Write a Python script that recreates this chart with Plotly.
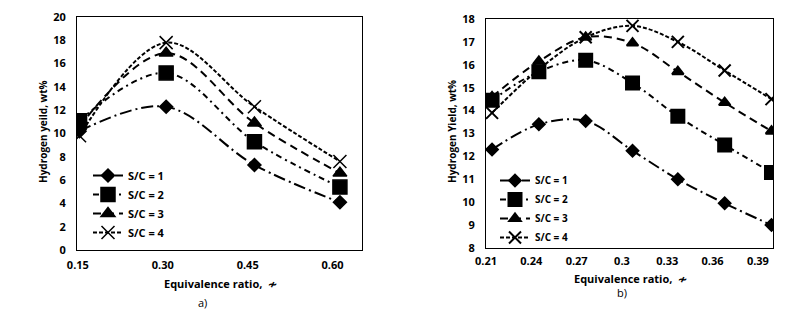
import plotly.graph_objects as go

# ---- data: panel a ----
phi_a = [0.153, 0.306, 0.462, 0.613]
a_sc1 = [10.2, 12.3, 7.3, 4.1]
a_sc2 = [11.1, 15.2, 9.3, 5.4]
a_sc3 = [10.6, 16.9, 10.9, 6.6]
a_sc4 = [9.8, 17.8, 12.3, 7.6]
a_xticks = [0.15, 0.30, 0.45, 0.60]
a_xticklabels = ["0.15", "0.30", "0.45", "0.60"]

# ---- data: panel b ----
phi_b = [0.214, 0.245, 0.276, 0.307, 0.337, 0.368, 0.399]
b_sc1 = [12.3, 13.4, 13.55, 12.25, 11.0, 9.95, 9.0]
b_sc2 = [14.45, 15.7, 16.2, 15.2, 13.75, 12.5, 11.3]
b_sc3 = [14.6, 16.15, 17.2, 16.95, 15.7, 14.35, 13.1]
b_sc4 = [13.9, 15.8, 17.2, 17.7, 17.0, 15.75, 14.5]
b_xticks = [0.21, 0.24, 0.27, 0.30, 0.33, 0.36, 0.39]
b_xticklabels = ["0.21", "0.24", "0.27", "0.3", "0.33", "0.36", "0.39"]

names = ["S/C = 1", "S/C = 2", "S/C = 3", "S/C = 4"]

dashes = ["12px,4px,2px,4px", "6px,4px,2px,4px", "8px,5px", "4px,2px"]
symbols = ["diamond", "square", "triangle-up", "x-thin-open"]
sizes_a = [10, 14, 12, 13]
sizes_b = [9, 13, 10, 12]

FONT = "Open Sans"

fig = go.Figure()

for i, ys in enumerate([a_sc1, a_sc2, a_sc3, a_sc4]):
    fig.add_trace(go.Scatter(
        x=phi_a, y=ys, name=names[i], mode="lines+markers",
        line=dict(color="black", width=2, dash=dashes[i], shape="spline", smoothing=1.0),
        marker=dict(symbol=symbols[i], size=sizes_a[i], color="black",
                    line=dict(color="black", width=1.5)),
        xaxis="x", yaxis="y", legend="legend"))

for i, ys in enumerate([b_sc1, b_sc2, b_sc3, b_sc4]):
    fig.add_trace(go.Scatter(
        x=phi_b, y=ys, name=names[i], mode="lines+markers",
        line=dict(color="black", width=2, dash=dashes[i], shape="spline", smoothing=1.0),
        marker=dict(symbol=symbols[i], size=sizes_b[i], color="black",
                    line=dict(color="black", width=2)),
        xaxis="x2", yaxis="y2", legend="legend2"))

axis_common = dict(showgrid=False, zeroline=False, showline=True, mirror=True,
                   linecolor="black", linewidth=1, ticks="", automargin=False,
                   tickfont=dict(family=FONT, size=11, color="black", weight="bold"))

fig.update_layout(
    width=808, height=318,
    margin=dict(l=0, r=0, t=0, b=0, autoexpand=False),
    paper_bgcolor="white", plot_bgcolor="white",
    xaxis=dict(domain=[77/808, 362/808], range=[0.1485, 0.652],
               tickvals=a_xticks, ticktext=a_xticklabels, anchor="y",
               ticklabelstandoff=5, **axis_common),
    yaxis=dict(domain=[1-250/318, 1-17/318], range=[0, 20], dtick=2, anchor="x",
               ticklabelstandoff=8, **axis_common),
    xaxis2=dict(domain=[486/808, 773/808], range=[0.21, 0.400],
                tickvals=b_xticks, ticktext=b_xticklabels, anchor="y2",
                ticklabelstandoff=3, **axis_common),
    yaxis2=dict(domain=[1-248/318, 1-19/318], range=[8, 18], dtick=1, anchor="x2",
                ticklabelstandoff=8, **axis_common),
    legend=dict(x=88/808, y=1-161/318, xanchor="left", yanchor="top",
                bgcolor="rgba(0,0,0,0)", itemwidth=30, tracegroupgap=0,
                font=dict(family=FONT, size=11, color="black", weight="bold")),
    legend2=dict(x=495/808, y=1-166/318, xanchor="left", yanchor="top",
                 bgcolor="rgba(0,0,0,0)", itemwidth=30, tracegroupgap=0,
                 font=dict(family=FONT, size=10, color="black", weight="bold")),
    showlegend=True,
)

ann_font_b = dict(family=FONT, size=11, color="black", weight="bold")
def ann(text, x, y, font, angle=0):
    fig.add_annotation(text=text, x=x/808, y=1-y/318, xref="paper", yref="paper",
                       showarrow=False, font=font, textangle=angle,
                       xanchor="center", yanchor="middle")

ann("Equivalence ratio,  ≁", 220, 283, ann_font_b)
ann("Equivalence ratio,  ≁", 630, 278, ann_font_b)
ann("a)", 202, 302, dict(family=FONT, size=11, color="black"))
ann("b)", 622, 292, dict(family=FONT, size=11, color="black"))
ann("Hydrogen yeild, wt%", 43, 132, dict(family=FONT, size=10, color="black", weight="bold"), -90)
ann("Hydrogen Yield, wt%", 452, 132, dict(family=FONT, size=10, color="black", weight="bold"), -90)

fig.write_html("out.html", config={"displayModeBar": False},
               post_script="document.body.style.margin='0';document.body.style.padding='0';")
